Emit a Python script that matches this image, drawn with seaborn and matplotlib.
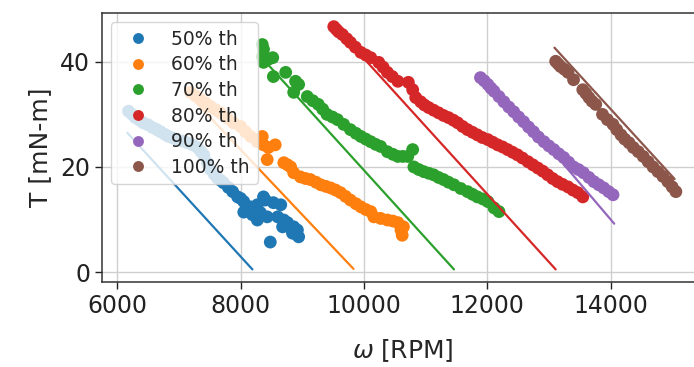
import matplotlib
matplotlib.use("Agg")
import matplotlib.pyplot as plt
import numpy as np
import pandas as pd
import seaborn as sns

series_names = ["50% th", "60% th", "70% th", "80% th", "90% th", "100% th"]

# measured points (speed in RPM, torque in mN-m)
w_50 = [6180, 6240, 6290, 6360, 6420, 6500, 6570, 6640, 6700, 6770, 6830, 6900, 6970, 7060,
        7140, 7220, 7300, 7350, 7400, 7460, 7510, 7570, 7620, 7670, 7720, 7800,
        7870, 7950, 8000, 8050, 8160, 8270, 8370, 8400, 8320, 8430, 8530, 8650, 8600, 8700, 8760,
        8860, 8920, 8940, 8840, 8480, 8680, 8270, 8050, 8190, 8900, 8820]
t_50 = [30.6, 30.0, 29.4, 28.9, 28.4, 28.0, 27.5, 27.1, 26.7, 26.2, 25.8, 25.5, 25.2, 24.9,
        24.6, 24.2, 23.7, 23.0, 22.3, 20.8, 19.5, 18.6, 17.9, 17.5, 17.0, 16.1,
        15.3, 14.3, 14.0, 13.4, 12.4, 12.8, 14.3, 13.7, 11.3, 10.5, 13.2, 12.8, 10.5, 9.9, 9.4,
        8.6, 8.0, 6.7, 7.4, 5.7, 8.6, 9.9, 11.4, 10.9, 7.2, 8.2]

w_60 = [7185, 7270, 7350, 7430, 7510, 7590, 7670, 7780, 7880, 8000, 8080, 8160, 8270, 8350,
        8370, 8450, 8560, 8430, 8700, 8760, 8810, 8860, 8970, 9050, 9130, 9220, 9300, 9380,
        9460, 9540, 9620, 9700, 9780, 9870, 9950, 10030, 10110, 10160, 10270, 10380, 10470,
        10550, 10640, 10620, 10600]
t_60 = [34.2, 33.5, 32.8, 32.2, 31.5, 30.9, 30.3, 29.3, 28.4, 27.7, 26.7, 25.8, 24.8, 25.8,
        24.2, 23.7, 24.2, 21.4, 20.8, 20.4, 20.0, 18.9, 18.1, 17.8, 17.6, 17.1, 16.6, 16.3,
        16.0, 15.6, 15.1, 14.4, 13.7, 13.0, 12.4, 11.9, 11.5, 10.5, 10.2, 9.9, 9.7,
        9.4, 8.6, 7.0, 8.0]

w_70 = [8350, 8370, 8350, 8370, 8450, 8520, 8530, 8730, 8890, 8940, 8860, 9080, 9170, 9260,
        9330, 9400, 9490, 9570, 9670, 9780, 9870, 9950, 10030, 10110, 10190, 10270, 10380,
        10470, 10550, 10630, 10710, 10790, 10810, 10890, 10970, 11050,
        11130, 11210, 11290, 11370, 11460, 11570, 11680, 11760, 11840, 11930, 12010, 12110, 12190]
t_70 = [43.3, 42.4, 41.0, 39.9, 40.5, 40.8, 37.2, 38.0, 36.3, 35.7, 34.2, 33.4, 32.6, 31.9,
        31.0, 30.0, 29.5, 29.0, 28.1, 27.1, 26.4, 25.8, 25.3, 24.8, 24.3, 23.9, 22.9,
        22.4, 22.0, 22.0, 22.0, 23.3, 20.0, 19.5, 19.1, 18.8,
        18.5, 18.0, 17.6, 17.1, 16.6, 15.9, 15.3, 14.8, 14.3, 13.9, 13.4, 12.2, 11.5]

w_80 = [9510, 9550, 9590, 9650, 9720, 9780, 9860, 9950, 10030, 10110, 10240, 10310, 10380,
        10460, 10550, 10720, 10790, 10840, 10920,
        10980, 11050, 11130, 11210, 11290, 11370, 11450, 11520, 11600, 11680, 11760, 11840,
        11920, 12010, 12090, 12170, 12250, 12330, 12410, 12490, 12570, 12660, 12740, 12820,
        12900, 12980, 13060, 13140, 13220, 13310, 13390, 13470, 13550]
t_80 = [46.7, 46.2, 45.7, 45.2, 44.4, 43.7, 42.8, 41.8, 41.3, 40.8, 39.9, 39.0, 38.0,
        37.2, 36.3, 36.1, 34.7, 33.2, 32.4,
        31.8, 31.3, 30.8, 30.3, 29.8, 29.4, 28.9, 28.4, 27.7, 27.1, 26.6, 26.1,
        25.6, 25.2, 24.7, 24.2, 23.8, 23.3, 22.8, 22.3, 21.7, 21.0, 20.4, 19.8,
        19.2, 18.5, 17.8, 17.2, 16.7, 16.2, 15.6, 15.1, 14.3]

w_90 = [11890, 11950, 12010, 12060, 12110, 12190, 12270, 12350, 12430, 12510, 12590, 12670,
        12750, 12830, 12920, 13000, 13080, 13160, 13240, 13320, 13400, 13480, 13560,
        13650, 13730, 13810, 13890, 13970, 14040]
t_90 = [37.0, 36.4, 35.7, 35.0, 34.4, 33.4, 32.4, 31.4, 30.5, 29.5, 28.6, 27.6,
        26.7, 25.7, 24.8, 24.0, 23.3, 22.5, 21.8, 20.9, 20.0, 19.5, 18.9,
        18.0, 17.2, 16.6, 16.0, 15.3, 14.7]

w_100 = [13110, 13150, 13190, 13250, 13310, 13400, 13550, 13600, 13650, 13700, 13760, 13870,
         13950, 14040, 14100, 14170, 14230, 14300, 14370, 14450, 14530, 14610, 14690, 14770,
         14850, 14930, 15000, 15060]
t_100 = [40.1, 39.6, 39.1, 38.6, 38.0, 36.6, 34.7, 34.0, 33.2, 32.5, 31.9, 30.0,
         29.0, 28.1, 27.1, 26.1, 25.3, 24.6, 23.7, 22.9, 22.0, 21.0, 20.0, 19.1,
         18.2, 17.2, 16.2, 15.3]

# model lines: start and end points per series
line_w = [[6160, 8190], [7200, 9830], [8450, 11460], [9600, 13110], [12500, 14060], [13090, 15040]]
line_t = [[26.5, 0.5], [33.2, 0.6], [39.4, 0.5], [45.8, 0.5], [30.7, 9.2], [42.7, 17.7]]

point_w = [w_50, w_60, w_70, w_80, w_90, w_100]
point_t = [t_50, t_60, t_70, t_80, t_90, t_100]

points = pd.concat(
    [pd.DataFrame({"w": w, "t": t, "series": name}) for name, w, t in zip(series_names, point_w, point_t)],
    ignore_index=True,
)
lines = pd.concat(
    [pd.DataFrame({"w": w, "t": t, "series": name}) for name, w, t in zip(series_names, line_w, line_t)],
    ignore_index=True,
)

sns.set_theme(style="ticks", rc={"axes.grid": True, "grid.color": "#cfcfcf", "grid.linewidth": 1.0,
                                 "axes.edgecolor": "#333333", "axes.linewidth": 1.1})
plt.rcParams["font.family"] = ["DejaVu Sans"]
palette = sns.color_palette("tab10", 6)

fig = plt.figure(figsize=(6.94, 3.67), dpi=100)
ax = fig.add_axes([102 / 694, 85 / 367, 601 / 694, 269 / 367])

sns.lineplot(data=lines, x="w", y="t", hue="series", palette=palette, legend=False,
             linewidth=1.6, ax=ax, sort=False, estimator=None)
sns.scatterplot(data=points, x="w", y="t", hue="series", palette=palette, s=85,
                linewidth=0, ax=ax)

ax.set_xlim(5750, 15500)
ax.set_ylim(-1.9, 49.3)
ax.set_xticks([6000, 8000, 10000, 12000, 14000])
ax.set_yticks([0, 20, 40])
ax.tick_params(labelsize=17, length=5, width=1, colors="#222222")
ax.set_xlabel(r"$\omega$ [RPM]", fontsize=18, labelpad=14)
ax.set_ylabel("T [mN-m]", fontsize=18, labelpad=6)

ax.legend(loc="upper left", fontsize=13.5, labelspacing=0.35, markerscale=0.85,
          frameon=True, framealpha=0.8, edgecolor="#cccccc", borderaxespad=0.5)

fig.savefig("out.png", dpi=100)
